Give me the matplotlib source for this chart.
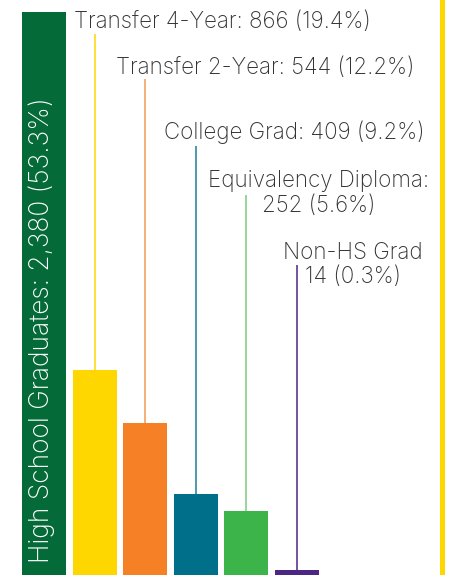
import matplotlib
matplotlib.use("Agg")
import matplotlib.pyplot as plt
import numpy as np

# values printed on the chart
categories = ["High School Graduates", "Transfer 4-Year", "Transfer 2-Year",
              "College Grad", "Equivalency Diploma", "Non-HS Grad"]
counts = [2380, 866, 544, 409, 252, 14]
percents = ["53.3", "19.4", "12.2", "9.2", "5.6", "0.3"]
# bar heights as drawn in the graphic (not to scale with the counts)
bar_heights = [2380, 866, 643, 342, 270, 21]

colors = ["#046A38", "#FFD700", "#F58025", "#00708A", "#3CB44A", "#4B2683"]
line_colors = ["#046A38", "#FFD700", "#F39A55", "#1E7F98", "#7CCB7C", "#4B2683"]

W, H = 449, 575
fig = plt.figure(figsize=(W / 100, H / 100), dpi=100)
ax = fig.add_axes([0, 0, 1, 1])
ax.set_axis_off()

step = 50.6
x0 = 44
ax.set_xlim(-x0 / step, (W - x0) / step)
ytop = 2380 * H / 563
ax.set_ylim(0, ytop)

pos = np.arange(len(categories))
ax.bar(pos, bar_heights, width=44 / step, color=colors, align="center")

# right-hand yellow rule
ax.axvline((442.5 - x0) / step, color="#FFD700", lw=3.6)

fam = ["Inter", "DejaVu Sans"]
font = dict(family=fam, fontweight="light", color="#333333")
fs = 16.1

# leader lines: top of each line in pixels from top of image
line_tops = [None, 34, 79, 146, 195, 265]
for i in range(1, len(categories)):
    ax.vlines(pos[i], bar_heights[i], (1 - line_tops[i] / H) * ytop,
              color=line_colors[i], lw=1.1)

# one-line labels: (index, left x px, baseline y px)
for i, lx, by in [(1, 74, 28), (2, 116, 74), (3, 164, 139)]:
    ax.text(lx, H - by, f"{categories[i]}: {counts[i]:,} ({percents[i]}%)",
            transform=None, ha="left", va="baseline", fontsize=fs, **font)

# two-line labels: (index, center x px, first baseline, second baseline, colon)
for i, cx, b1, b2, sep in [(4, 319, 187, 212, ":"), (5, 353, 259, 283, "")]:
    ax.text(cx, H - b1, categories[i] + sep, transform=None, ha="center",
            va="baseline", fontsize=fs, **font)
    ax.text(cx, H - b2, f"{counts[i]} ({percents[i]}%)", transform=None,
            ha="center", va="baseline", fontsize=fs, **font)

ax.text(42, H - 330, f"{categories[0]}: {counts[0]:,} ({percents[0]}%)",
        transform=None, rotation=90, ha="center", va="center",
        fontsize=19.0, family=fam, fontweight="light", color="white")

fig.savefig("out.png", dpi=100, facecolor="white")
